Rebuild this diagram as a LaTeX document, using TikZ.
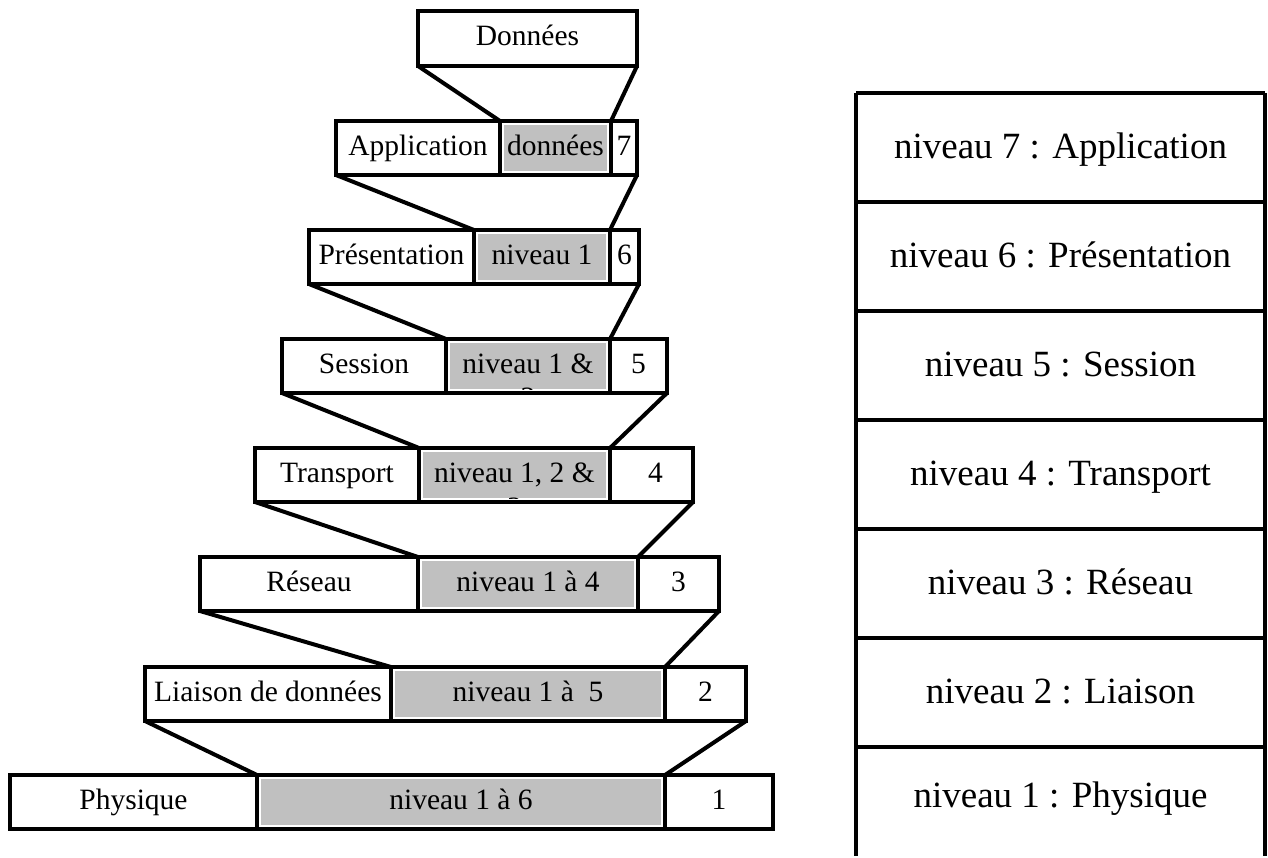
\documentclass[tikz,border=0pt]{standalone}
\usepackage{fontspec}
\setmainfont{Liberation Serif}
\usetikzlibrary{calc}
\pgfdeclarelayer{bg}
\pgfsetlayers{bg,main}
\definecolor{cellgray}{RGB}{192,192,192}
\newcommand\lftfont{\fontsize{29.5}{34}\selectfont}
\newcommand\rgtfont{\fontsize{37}{42}\selectfont}
\begin{document}
\begin{tikzpicture}[x=1pt,y=-1pt,
  cell/.style={draw, line width=4pt, rectangle, inner sep=0pt, outer sep=0pt, anchor=north west, minimum height=54pt, font=\lftfont, text height=19.5pt, text depth=5.5pt},
  rcell/.style={inner sep=0pt, outer sep=0pt, anchor=north west, minimum width=409pt, minimum height=109pt, font=\rgtfont, text height=25pt, text depth=3pt},
  link/.style={line width=4pt, line cap=round},
  rline/.style={line width=3.5pt},
  hidden/.style={font=\lftfont, inner sep=0pt, text height=19.5pt, text depth=5.5pt}]
\useasboundingbox (0,0) rectangle (1268,857);

% top data box
\node[cell, minimum width=219pt, minimum height=55pt] (don) at (418,11) {Données};
% level 7
\node[cell, minimum width=164pt] (a7) at (336,121) {Application};
\node[cell, minimum width=111pt] (g7) at (500,121) {données};
\node[cell, minimum width=26pt]  (n7) at (611,121) {7};
% level 6
\node[cell, minimum width=165pt] (a6) at (309,230) {Présentation};
\node[cell, minimum width=136pt] (g6) at (474,230) {niveau 1};
\node[cell, minimum width=29pt]  (n6) at (610,230) {6};
% level 5
\node[cell, minimum width=164pt] (a5) at (282,339) {Session};
\node[cell, minimum width=164pt] (g5) at (446,339) {niveau 1 \&};
\node[cell, minimum width=57pt]  (n5) at (610,339) {5};
% level 4
\node[cell, minimum width=164pt] (a4) at (255,448) {Transport};
\node[cell, minimum width=191pt] (g4) at (419,448) {niveau 1, 2 \&};
\node[cell, minimum width=83pt]  (n4) at (610,448) {\hspace*{8pt}4};
% level 3
\node[cell, minimum width=218pt] (a3) at (200,557) {Réseau};
\node[cell, minimum width=220pt] (g3) at (418,557) {niveau 1 à 4};
\node[cell, minimum width=81pt]  (n3) at (638,557) {3};
% level 2
\node[cell, minimum width=246pt] (a2) at (145,667) {Liaison de données};
\node[cell, minimum width=274pt] (g2) at (391,667) {niveau 1 à~~5};
\node[cell, minimum width=81pt]  (n2) at (665,667) {2};
% level 1
\node[cell, minimum width=247pt] (a1) at (10,775) {Physique};
\node[cell, minimum width=408pt] (g1) at (257,775) {niveau 1 à 6};
\node[cell, minimum width=108pt] (n1) at (665,775) {1};

% gray fills
\begin{pgfonlayer}{bg}
\foreach \g in {g7,g6,g5,g4,g3,g2,g1}
  \fill[cellgray] ($(\g.north west)+(4,4)$) rectangle ($(\g.south east)+(-4,-4)$);
\end{pgfonlayer}

% clipped second lines
\begin{scope}
\clip ($(g5.north west)+(4,4)$) rectangle ($(g5.south east)+(-4,-4)$);
\node[hidden] (h5) at ($(g5.center)+(0,34)$) {2};
\end{scope}
\begin{scope}
\clip ($(g4.north west)+(4,4)$) rectangle ($(g4.south east)+(-4,-4)$);
\node[hidden] (h4) at ($(g4.center)+(0,35)$) {3};
\end{scope}

% connectors
\draw[link] (don.south west) -- (g7.north west);
\draw[link] (don.south east) -- (g7.north east);
\draw[link] (a7.south west) -- (g6.north west);
\draw[link] (n7.south east) -- (g6.north east);
\draw[link] (a6.south west) -- (g5.north west);
\draw[link] (n6.south east) -- (g5.north east);
\draw[link] (a5.south west) -- (g4.north west);
\draw[link] (n5.south east) -- (g4.north east);
\draw[link] (a4.south west) -- (g3.north west);
\draw[link] (n4.south east) -- (g3.north east);
\draw[link] (a3.south west) -- (g2.north west);
\draw[link] (n3.south east) -- (g2.north east);
\draw[link] (a2.south west) -- (g1.north west);
\draw[link] (n2.south east) -- (g1.north east);

% right table
\node[rcell] (r7) at (856,93)  {niveau 7 : Application};
\node[rcell] (r6) at (856,202) {niveau 6 : Présentation};
\node[rcell] (r5) at (856,311) {niveau 5 : Session};
\node[rcell] (r4) at (856,420) {niveau 4 : Transport};
\node[rcell] (r3) at (856,529) {niveau 3 : Réseau};
\node[rcell] (r2) at (856,638) {niveau 2 : Liaison};
\node[rcell] (r1) at (856,747) {\raisebox{5pt}{niveau 1 : Physique}};
\foreach \r in {r7,r6,r5,r4,r3,r2,r1}
  \draw[rline] (\r.north west) -- (\r.north east);
\draw[rline] (r7.north west) -- (r1.south west);
\draw[rline] (r7.north east) -- (r1.south east);
\end{tikzpicture}
\end{document}
